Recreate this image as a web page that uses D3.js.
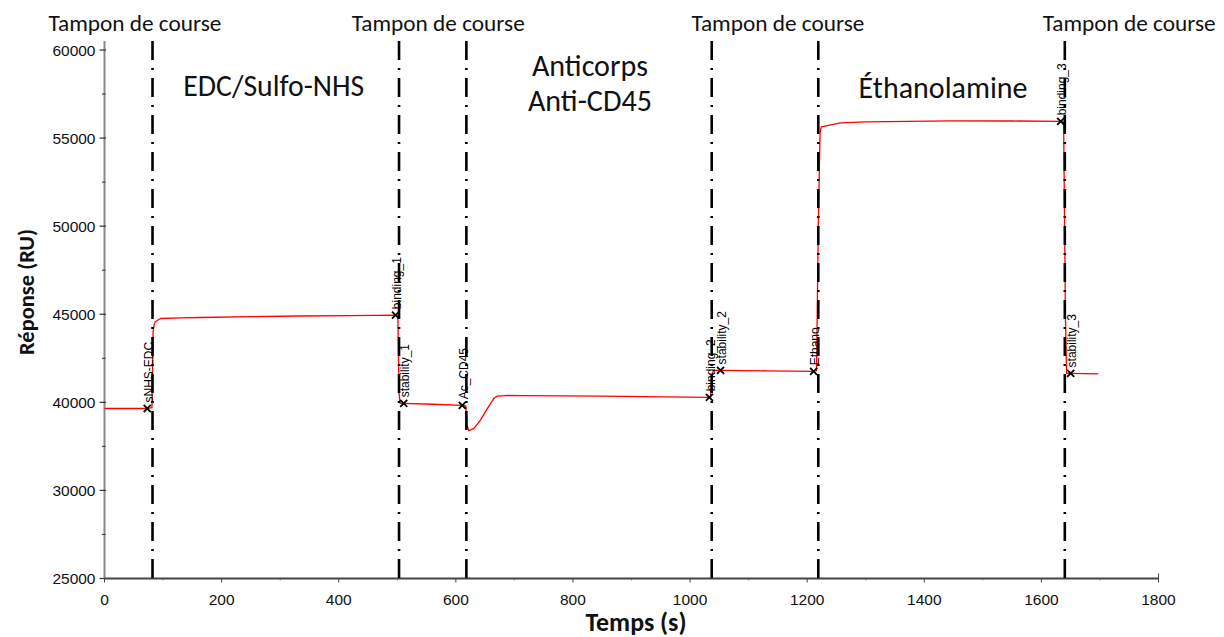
<!DOCTYPE html>
<html>
<head>
<meta charset="utf-8">
<script src="https://cdn.jsdelivr.net/npm/d3@7"></script>
<style>
  html, body { margin: 0; padding: 0; background: #fff; }
  svg { display: block; }
</style>
</head>
<body>
<svg id="chart" width="1224" height="637"></svg>
<script>
// ---------- data ----------
const times = [0, 73, 81, 83, 85, 87, 96, 130, 164, 250, 335, 420, 497, 501, 503, 505, 511, 560, 611, 617, 619, 622, 631, 642, 654, 665, 671, 690, 710, 847, 1032, 1035, 1037, 1040, 1052, 1130, 1211, 1216, 1219, 1222, 1224, 1257, 1300, 1445, 1550, 1633, 1638, 1641, 1643, 1650, 1697];
const responses = [39300, 39300, 39400, 44000, 44450, 44590, 44760, 44790, 44816, 44860, 44900, 44925, 44946, 44900, 40500, 39886, 39886, 39780, 39660, 39600, 37500, 36784, 37045, 37989, 39318, 40227, 40357, 40390, 40380, 40350, 40283, 40300, 41500, 41813, 41810, 41790, 41760, 41800, 50000, 55300, 55637, 55864, 55920, 55977, 55970, 55949, 55900, 45000, 41643, 41640, 41615];

const markerNames = ["sNHS-EDC", "binding_1", "stability_1", "Ac_CD45", "binding_2", "stability_2", "Ethano", "binding_3", "stability_3"];
const markerTimes = [73, 497, 511, 611, 1033, 1052, 1211, 1633, 1650];
const markerValues = [39300, 44946, 39886, 39660, 40283, 41810, 41760, 55949, 41640];

const eventTimes = [82, 503, 618, 1037, 1219, 1640];
const bufferLabel = "Tampon de course";
const bufferTimes = [52, 570, 1150, 1750];

const phaseLabels = [["EDC/Sulfo-NHS"], ["Anticorps", "Anti-CD45"], ["Éthanolamine"]];
const phaseTimes = [289, 829, 1432];

const xTicks = [0, 200, 400, 600, 800, 1000, 1200, 1400, 1600, 1800];
const xMinorTicks = [100, 300, 500, 700, 900, 1100, 1300, 1500, 1700];
const yTicks = [25000, 30000, 40000, 45000, 50000, 55000, 60000];
const yTickLabels = ["25000", "30000", "40000", "45000", "50000", "55000", "60000"];

const xTitle = "Temps (s)";
const yTitle = "Réponse (RU)";

// ---------- layout ----------
const svg = d3.select("#chart");
const pLeft = 104.5, pRight = 1158.5, pTop = 50, pBottom = 578.5;

const x = d3.scaleLinear().domain([0, 1800]).range([pLeft, pRight]);
// axis labels are evenly spaced in the original, so a piecewise scale is used
const y = d3.scaleLinear()
  .domain(yTicks)
  .range(yTicks.map((d, i) => pBottom - i * (pBottom - pTop) / (yTicks.length - 1)));
const yMinor = d3.range(yTicks.length - 1).map(i => (y(yTicks[i]) + y(yTicks[i + 1])) / 2);

const calibri = "Carlito, Calibri, Lato, 'Open Sans', sans-serif";
const arial = "'Liberation Sans', Arial, sans-serif";

function fitWidth(sel, w) {
  sel.each(function () {
    const fs = parseFloat(d3.select(this).attr("font-size"));
    const len = this.getComputedTextLength();
    if (len > 0) d3.select(this).attr("font-size", (fs * w / len).toFixed(2));
  });
}

// ---------- axes ----------
const gy = svg.append("g");
gy.append("line").attr("x1", pLeft).attr("x2", pLeft).attr("y1", 41).attr("y2", pBottom)
  .attr("stroke", "#8a8a8a").attr("stroke-width", 2);
gy.selectAll("line.maj").data(yTicks).join("line").attr("class", "maj")
  .attr("x1", pLeft - 5).attr("x2", pLeft + 1.5).attr("y1", d => y(d)).attr("y2", d => y(d))
  .attr("stroke", "#333").attr("stroke-width", 1.2);
gy.selectAll("line.min").data(yMinor).join("line").attr("class", "min")
  .attr("x1", pLeft - 2.5).attr("x2", pLeft + 1).attr("y1", d => d).attr("y2", d => d)
  .attr("stroke", "#333").attr("stroke-width", 1);
gy.selectAll("text").data(yTicks).join("text")
  .attr("x", pLeft - 9).attr("y", d => y(d)).attr("dy", "0.36em")
  .attr("text-anchor", "end").attr("font-family", arial).attr("font-size", 15.5)
  .attr("fill", "#111").text((d, i) => yTickLabels[i]);

const gx = svg.append("g");
gx.append("line").attr("x1", pLeft).attr("x2", pRight).attr("y1", pBottom).attr("y2", pBottom)
  .attr("stroke", "#444").attr("stroke-width", 1.8);
gx.selectAll("line.maj").data(xTicks).join("line").attr("class", "maj")
  .attr("x1", d => x(d)).attr("x2", d => x(d))
  .attr("y1", d => d === 1800 ? pBottom - 5 : pBottom).attr("y2", pBottom + 4)
  .attr("stroke", "#444").attr("stroke-width", 1);
gx.selectAll("line.min").data(xMinorTicks).join("line").attr("class", "min")
  .attr("x1", d => x(d)).attr("x2", d => x(d)).attr("y1", pBottom).attr("y2", pBottom + 2)
  .attr("stroke", "#666").attr("stroke-width", 0.8);
gx.selectAll("text").data(xTicks).join("text")
  .attr("x", d => x(d)).attr("y", pBottom + 26)
  .attr("text-anchor", "middle").attr("font-family", arial).attr("font-size", 15.5)
  .attr("fill", "#111").text(d => d);

// titles
svg.append("text").attr("x", 636).attr("y", 631).attr("text-anchor", "middle")
  .attr("font-family", calibri).attr("font-weight", "bold").attr("font-size", 22)
  .attr("fill", "#111").text(xTitle).call(fitWidth, 101);
svg.append("text").attr("transform", "translate(34,292) rotate(-90)").attr("text-anchor", "middle")
  .attr("font-family", calibri).attr("font-weight", "bold").attr("font-size", 22)
  .attr("fill", "#111").text(yTitle).call(fitWidth, 126);

// ---------- data line ----------
const pts = times.map((t, i) => [t, responses[i]]);
svg.append("path").datum(pts)
  .attr("fill", "none").attr("stroke", "#ff0000").attr("stroke-width", 1.3)
  .attr("stroke-linejoin", "round")
  .attr("d", d3.line().x(d => x(d[0])).y(d => y(d[1])));

// markers
const mk = markerNames.map((n, i) => ({ n, t: markerTimes[i], v: markerValues[i] }));
svg.append("g").selectAll("path").data(mk).join("path")
  .attr("transform", d => `translate(${x(d.t)},${y(d.v)})`)
  .attr("d", d3.symbol(d3.symbolTimes, 34)())
  .attr("fill", "none").attr("stroke", "#000").attr("stroke-width", 1.8);
svg.append("g").selectAll("text").data(mk).join("text")
  .attr("transform", d => `translate(${x(d.t) + 1},${y(d.v) - 6}) rotate(-90)`)
  .attr("dy", "0.36em").attr("font-family", arial).attr("font-size", 12)
  .attr("fill", "#000").text(d => d.n);

// ---------- event lines ----------
svg.append("g").selectAll("line").data(eventTimes).join("line")
  .attr("x1", d => x(d)).attr("x2", d => x(d)).attr("y1", 41).attr("y2", pBottom)
  .attr("stroke", "#000").attr("stroke-width", 2.6)
  .attr("stroke-dasharray", "19,8,2,8");

// ---------- annotations ----------
svg.append("g").selectAll("text").data(bufferTimes).join("text")
  .attr("x", d => x(d)).attr("y", 31).attr("text-anchor", "middle")
  .attr("font-family", calibri).attr("font-size", 21).attr("fill", "#111")
  .text(bufferLabel).call(fitWidth, 173);

const phaseWidths = [181, 116, 169];
const phaseBase = [96, 76, 98];
phaseLabels.forEach((lines, i) => {
  let fs = null;
  lines.forEach((ln, j) => {
    const t = svg.append("text").attr("x", x(phaseTimes[i])).attr("y", phaseBase[i] + j * 35)
      .attr("text-anchor", "middle").attr("font-family", calibri).attr("font-size", 25)
      .attr("fill", "#111").text(ln);
    if (fs === null) { t.call(fitWidth, phaseWidths[i]); fs = t.attr("font-size"); }
    else t.attr("font-size", fs);
  });
});
</script>
</body>
</html>
